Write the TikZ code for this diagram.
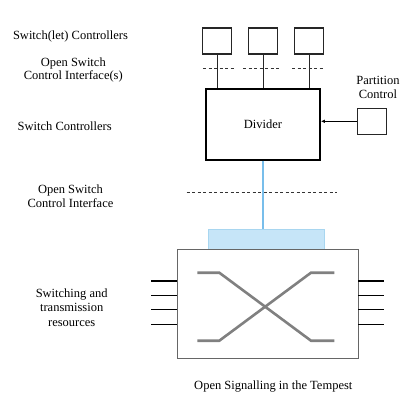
\documentclass[tikz,border=0pt]{standalone}
\usepackage{fontspec}
\setmainfont{Liberation Serif}
\usetikzlibrary{arrows.meta}

\definecolor{slotfill}{RGB}{198,229,248}
\definecolor{slotedge}{RGB}{168,214,240}
\definecolor{slotline}{RGB}{120,190,235}

\begin{document}
\begin{tikzpicture}[
    x=1pt, y=-1pt,
    ctrl/.style={draw=black!85, line width=1.2pt, minimum width=29pt, minimum height=26pt, inner sep=0pt},
    side/.style={align=center, font=\fontsize{12.5}{13.6}\selectfont},
    iface/.style={dash pattern=on 3pt off 2.5pt, line width=0.6pt, black!80},
    port/.style={line width=1.5pt},
    xpath/.style={line width=2.6pt, black!50}
]
    \useasboundingbox (0,0) rectangle (411,409);

    % controllers and divider
    \node[ctrl] (c1) at (217,41) {};
    \node[ctrl] (c2) at (263,41) {};
    \node[ctrl] (c3) at (309,41) {};
    \node[draw, line width=1.6pt, minimum width=114pt, minimum height=71pt, side] (divider) at (263,124.4) {Divider};
    \node[ctrl] (part) at (372,121.3) {};
    \node[side] (partlbl) at (378,87.5) {Partition\\Control};

    \foreach \c in {c1,c2,c3}
        \draw[line width=0.9pt, black!85] (\c.south) -- (\c.south |- divider.north);
    \draw[-{Latex[length=4pt, width=3.5pt]}, line width=0.8pt] (part.west) -- (divider.east |- part.west);

    % interfaces
    \draw[iface] (203,68.7) -- (235,68.7);
    \draw[iface] (243,68.7) -- (281,68.7);
    \draw[iface] (292,68.7) -- (324,68.7);
    \draw[iface] (186.7,192.3) -- (336.7,192.3);

    % switching fabric
    \node[draw=slotedge, fill=slotfill, minimum width=115.4pt, minimum height=20pt, inner sep=0pt] (slot) at (266,239.3) {};
    \node[draw=black!60, line width=0.8pt, minimum width=180.7pt, minimum height=109pt, inner sep=0pt] (fabric) at (267.7,303.8) {};
    \draw[slotline, line width=1.1pt] (divider.south) -- (divider.south |- slot.north);

    \draw[xpath] (197.3,272.7) -- (219.3,272.7) -- (311,340.7) -- (334.3,340.7);
    \draw[xpath] (197.3,340.7) -- (219.3,340.7) -- (311,272.7) -- (334.3,272.7);
    \foreach \y in {281,295.3,309.7,324.3} {
        \draw[port] (fabric.west |- 0,\y) -- ++(-25.6,0);
        \draw[port] (fabric.east |- 0,\y) -- ++(25.3,0);
    }

    % left labels
    \node[side] (lbl1) at (70.5,36.7) {Switch(let) Controllers};
    \node[side] (lbl2) at (73.3,70) {Open Switch\\Control Interface(s)};
    \node[side] (lbl3) at (64.7,126.7) {Switch Controllers};
    \node[side] (lbl4) at (70.5,196) {Open Switch\\Control Interface};
    \node[side] (lbl5) at (71.7,307.5) {Switching and\\[1pt]transmission\\[1pt]resources};
    \node[side] (caption) at (273.3,386.7) {Open Signalling in the Tempest};
\end{tikzpicture}
\end{document}
